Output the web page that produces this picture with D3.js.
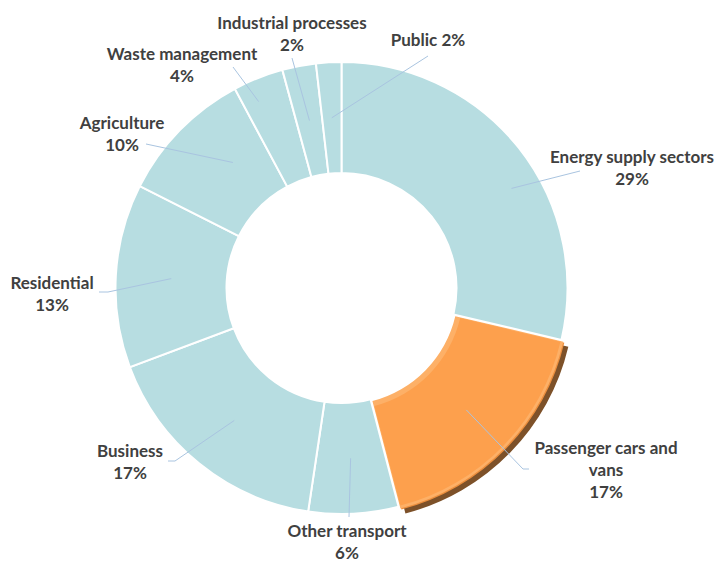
<html>
<head>
<script src="https://d3js.org/d3.v7.min.js"></script>
<style>
  body { margin: 0; background: #fff; }
  text { font-family: Lato, "Open Sans", sans-serif; font-weight: bold; fill: #404040; font-size: 17px; }
</style>
</head>
<body>
<svg id="donut" width="717" height="565"></svg>
<script>
// sectors, clockwise from 12 o'clock
const sectors = ["Energy supply sectors", "Passenger cars and vans", "Other transport", "Business",
                 "Residential", "Agriculture", "Waste management", "Industrial processes", "Public"];
const shares = [28.6, 17.2, 6.4, 16.9, 13.1, 9.7, 3.6, 2.4, 1.8];
const pctLabels = ["29%", "17%", "6%", "17%", "13%", "10%", "4%", "2%", "2%"];
const highlight = "Passenger cars and vans";

// label layout: text lines, label centre, leader end points, anchor tweak [deg, radius]
const layout = [
  { lines: ["Energy supply sectors", "29%"], x: 632, y: 157, leader: [[580, 171]], anchor: [8, 197] },
  { lines: ["Passenger cars and", "vans", "17%"], x: 606, y: 448, leader: [[523, 469], [529, 469]] },
  { lines: ["Other transport", "6%"], x: 347, y: 531, leader: [[349, 517]] },
  { lines: ["Business", "17%"], x: 130, y: 451, leader: [[175, 461], [168, 461]] },
  { lines: ["Residential", "13%"], x: 52, y: 283, leader: [[108, 292], [99, 292]] },
  { lines: ["Agriculture", "10%"], x: 122, y: 123, leader: [[146, 144]], anchor: [4.8, 166] },
  { lines: ["Waste management", "4%"], x: 182, y: 54, leader: [[233, 67]], anchor: [-2.3, 204] },
  { lines: ["Industrial processes", "2%"], x: 292, y: 23, leader: [[292, 58]] },
  { lines: ["Public 2%"], x: 428, y: 40, leader: [[428, 56]] }
];

const svg = d3.select("svg#donut");
const cx = 341.5, cy = 288;
const outerR = 226, innerR = 115;
const explode = 4;

const pie = d3.pie().sort(null).value(d => d.v);
const arcs = pie(sectors.map((s, i) => ({ name: s, v: shares[i], pct: pctLabels[i] })));
const arc = d3.arc().innerRadius(innerR).outerRadius(outerR);
const insetArc = d3.arc().innerRadius(innerR + 4).outerRadius(outerR - 4);

const g = svg.append("g").attr("transform", `translate(${cx},${cy})`);

function offset(d, dist) {
  const a = (d.startAngle + d.endAngle) / 2;
  return [dist * Math.sin(a), -dist * Math.cos(a)];
}

// normal slices
g.selectAll("path.slice").data(arcs.filter(d => d.data.name !== highlight))
  .join("path")
  .attr("class", "slice")
  .attr("d", arc)
  .attr("fill", "#b7dde1")
  .attr("stroke", "#fff")
  .attr("stroke-width", 2);

// highlighted slice with shadow + bevel
const hi = arcs.find(d => d.data.name === highlight);
const [ox, oy] = offset(hi, explode);
const hg = g.append("g").attr("transform", `translate(${ox},${oy})`);
hg.append("path").attr("d", arc(hi))
  .attr("transform", "translate(4,4)")
  .attr("fill", "#7d5129");
hg.append("path").attr("d", arc(hi)).attr("fill", "#ec8f3e");
hg.append("path").attr("d", arc(hi))
  .attr("transform", "translate(-1,-1)")
  .attr("fill", "#fdb067");
hg.append("path").attr("d", insetArc(hi)).attr("fill", "#fda04d");

// leader lines
arcs.forEach((d, i) => {
  const L = layout[i];
  let start;
  if (L.anchor) {
    const a = (d.startAngle + d.endAngle) / 2 + L.anchor[0] * Math.PI / 180;
    start = [cx + L.anchor[1] * Math.sin(a), cy - L.anchor[1] * Math.cos(a)];
  } else {
    const c = arc.centroid(d);
    const o = d.data.name === highlight ? offset(d, explode) : [0, 0];
    start = [cx + c[0] + o[0], cy + c[1] + o[1]];
  }
  svg.append("path")
    .attr("d", d3.line()([start, ...L.leader]))
    .attr("fill", "none")
    .attr("stroke", "#a9c4e0")
    .attr("stroke-width", 1);
});

// labels
arcs.forEach((d, i) => {
  const L = layout[i];
  const t = svg.append("text").attr("text-anchor", "middle");
  L.lines.forEach((ln, j) => {
    t.append("tspan").attr("x", L.x).attr("y", L.y + j * 22).attr("dy", "0.35em").text(ln);
  });
});
</script>
</body>
</html>
